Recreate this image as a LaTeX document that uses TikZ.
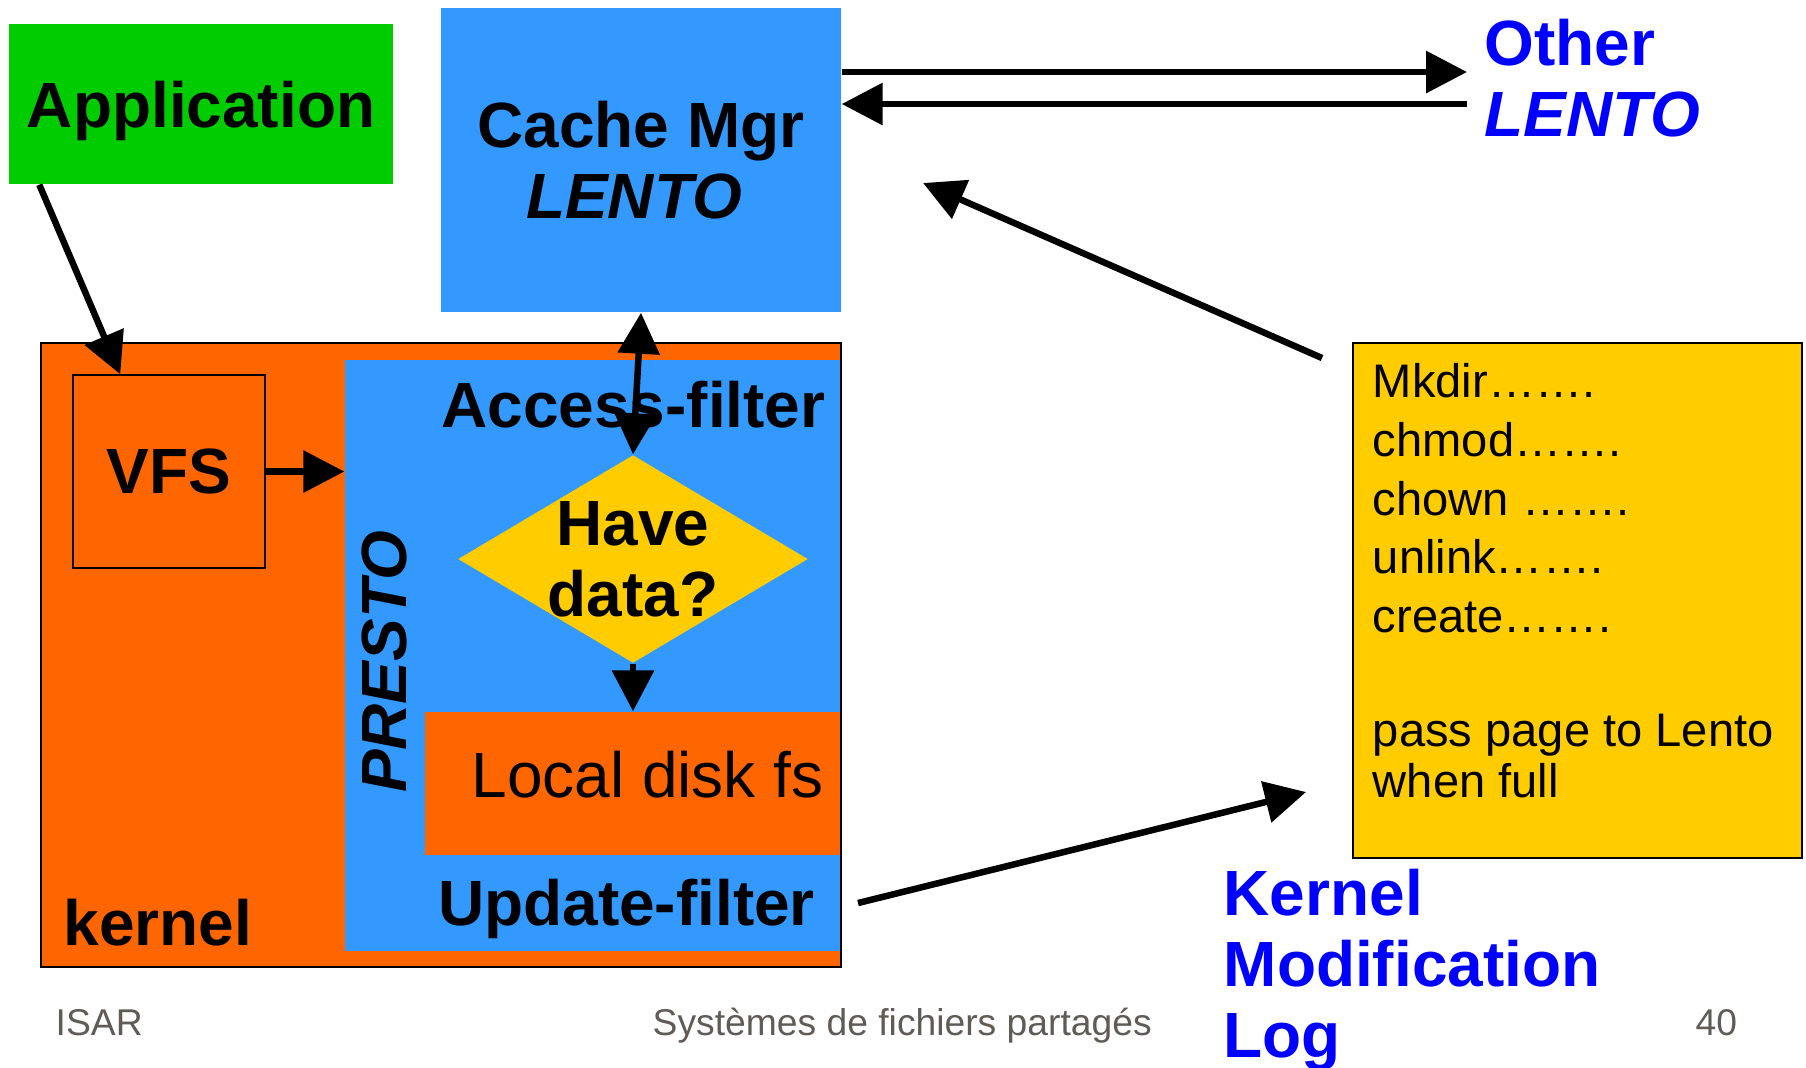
\documentclass[tikz,border=0pt]{standalone}
\usepackage{fontspec}
\setmainfont{Liberation Sans}
\usepackage{tikz}
\usetikzlibrary{shapes,arrows.meta,positioning}

\definecolor{appgreen}{RGB}{0,204,0}
\definecolor{lentoblue}{RGB}{51,153,255}
\definecolor{kernorange}{RGB}{255,102,0}
\definecolor{logyellow}{RGB}{255,204,0}
\definecolor{titleblue}{RGB}{0,0,255}
\definecolor{footgray}{RGB}{96,91,85}

\begin{document}
\begin{tikzpicture}[x=1mm,y=1mm,>={Triangle[length=0.41cm,width=0.41cm]}]
\tikzstyle{every node}+=[inner sep=0pt]
\tikzstyle{big}=[font=\fontsize{18.2pt}{20.2pt}\selectfont\bfseries]
\tikzstyle{plain}=[font=\fontsize{18.2pt}{20.2pt}\selectfont]
\tikzstyle{edge}=[draw=black, line width=0.015cm]
\tikzstyle{arr}=[line width=0.065cm, ->]
\tikzstyle{foot}=[font=\fontsize{10.6pt}{12pt}\selectfont, text=footgray, anchor=base west]
\useasboundingbox (0,0) rectangle (180.6,-106.7);
% kernel part
\node (kernel) [edge, fill=kernorange, minimum width=8cm, minimum height=6.24cm] at (44.1,-65.5) {};
\node (presto) [fill=lentoblue, minimum width=4.95cm, minimum height=5.91cm] at (59.25,-65.55) {};
\node (vfs) [big, edge, fill=kernorange, minimum width=1.92cm, minimum height=1.93cm] at (16.9,-47.15) {VFS};
\node (localfs) [plain, fill=kernorange, minimum width=4.15cm, minimum height=1.43cm, text width=3.82cm, align=flush right, text height=0.47cm, text depth=0.2cm] at (63.25,-78.35) {Local disk fs};
\node (check) [diamond, fill=logyellow, minimum width=3.5cm, minimum height=2.08cm, label={[big, align=center]center:{Have\\data?}}] at (63.3,-55.9) {};
\node (access) [big, anchor=base] at (63.35,-42.7) {Access-filter};
\node (update) [big, anchor=base] at (62.65,-92.5) {Update-filter};
\node (kernlabel) [big, anchor=base west] at (6.3,-94.5) {kernel};
\node (prestolabel) [big, rotate=90] at (38.4,-66.2) {\itshape PRESTO};
% top row
\node (app) [big, fill=appgreen, minimum width=3.84cm, minimum height=1.6cm, text depth=0pt] at (20.1,-10.4) {Application};
\node (cache) [big, fill=lentoblue, minimum width=4cm, minimum height=3.04cm, align=center] at (64.1,-16) {Cache Mgr\\\textit{LENTO}\hspace*{0.14cm}};
\node (other) [big, text=titleblue, align=left, anchor=north west] at (148.4,-1.85) {Other\\\textit{LENTO}};
% modification log
\node (kmlog) [edge, fill=logyellow, minimum width=4.49cm, minimum height=5.15cm] at (157.75,-60.05) {};
\node (logtext) [anchor=north west, align=left, font=\fontsize{13.4pt}{14.5pt}\selectfont] at ([xshift=0.2cm,yshift=-0.207cm]kmlog.north west) {Mkdir…….\\[2.2pt]chmod…….\\[2.2pt]chown …….\\[2.2pt]unlink…….\\[2.2pt]create…….\\[17.9pt]pass page to Lento\\when full};
\node (kmlabel) [big, text=titleblue, align=left, anchor=north west] at (122.3,-86.85) {Kernel\\Modification\\Log};
% footer
\node (isar) [foot] at (5.5,-103.5) {ISAR};
\node (course) [foot] at (65.2,-103.5) {Systèmes de fichiers partagés};
\node (pagenum) [foot] at (169.5,-103.5) {40};
% arrows
\coordinate (o1) at (146.7,-7.2);
\coordinate (o2) at (146.7,-10.4);
\coordinate (logtail) at (132.2,-35.8);
\coordinate (cachehead) at (92.3,-18.3);
\coordinate (updtail) at (85.8,-90.3);
\coordinate (loghead) at (130.6,-79.2);
\draw [arr] (cache.east |- o1) -- (o1);
\draw [arr] (o2) -- (cache.east |- o2);
\draw [arr] ([xshift=0.31cm]app.south west) -- ([xshift=0.48cm]vfs.north west);
\draw [arr] (vfs.east) -- (vfs.east -| presto.west);
\draw [arr, <->] (cache.south) -- (check.north);
\draw [arr] (check.south) -- (check.south |- localfs.north);
\draw [arr] (logtail) -- (cachehead);
\draw [arr] (updtail) -- (loghead);
\end{tikzpicture}
\end{document}
